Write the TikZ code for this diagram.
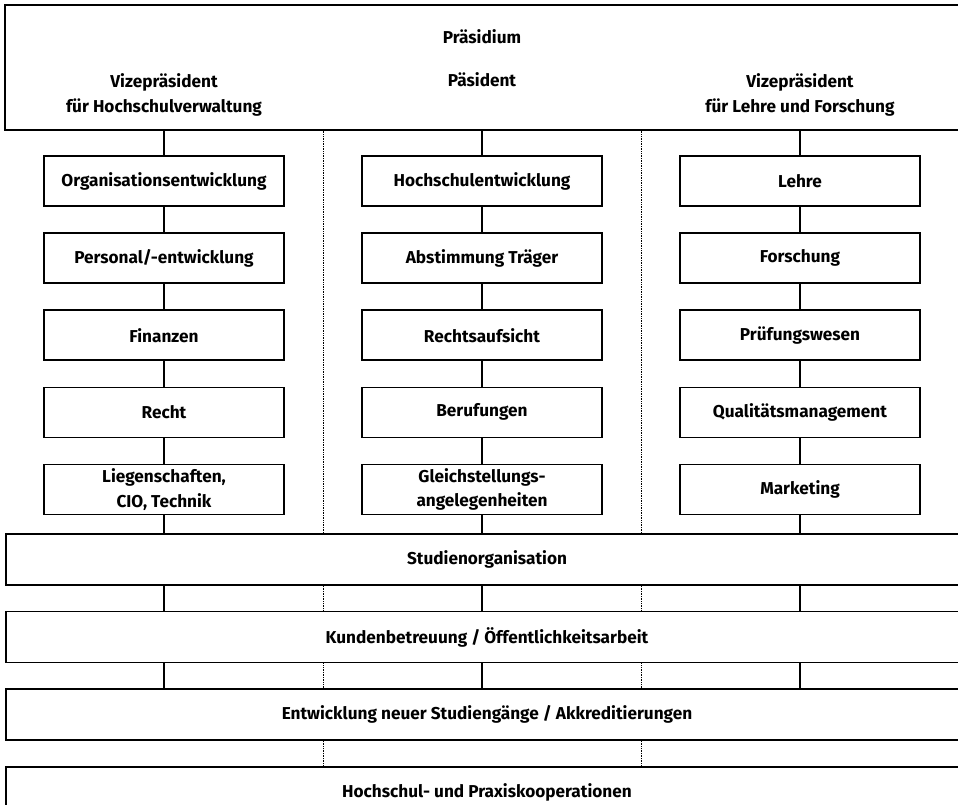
\documentclass[tikz,border=0pt]{standalone}
\usepackage{fontspec}
\setmainfont{Fira Sans}
\usetikzlibrary{positioning}

\begin{document}
\begin{tikzpicture}[x=1pt, y=-1pt, node distance=25.5pt,
    font=\fontsize{17.2}{24.5}\selectfont\bfseries,
    unit/.style={draw, line width=1.6pt, minimum width=240pt, minimum height=50pt,
      inner sep=0pt, align=center},
    band/.style={draw, line width=1.6pt, minimum width=962pt, minimum height=51pt,
      inner sep=0pt},
    link/.style={line width=1.3pt},
    split/.style={densely dotted, line width=0.7pt}]
  \useasboundingbox (0,0) rectangle (958,805);
  \clip (0,0) rectangle (958,805);

  % Praesidium
  \node [draw, line width=1.6pt, minimum width=962pt, minimum height=125pt,
    inner sep=0pt] (board) at (486,67.5) {};
  \node (praesidium) at (482,37) {Präsidium};
  \node [align=center] (vpverw) at (164,95) {Vizepräsident\\für Hochschulverwaltung};
  \node (praes) at (482,80) {Päsident};
  \node [align=center] (vplehre) at (800,95) {Vizepräsident\\für Lehre und Forschung};

  % Hochschulverwaltung
  \node [unit] (orga) at (164,181) {Organisationsentwicklung};
  \node [unit, below=of orga] (personal) {Personal/-entwicklung};
  \node [unit, below=of personal] (finanzen) {Finanzen};
  \node [unit, below=of finanzen] (recht) {Recht};
  \node [unit, below=of recht] (liegen) {Liegenschaften,\\CIO, Technik};

  % Praesident
  \node [unit] (hsentw) at (482,181) {Hochschulentwicklung};
  \node [unit, below=of hsentw] (traeger) {Abstimmung Träger};
  \node [unit, below=of traeger] (aufsicht) {Rechtsaufsicht};
  \node [unit, below=of aufsicht] (berufung) {Berufungen};
  \node [unit, below=of berufung] (gleich) {Gleichstellungs-\\angelegenheiten};

  % Lehre und Forschung
  \node [unit] (lehre) at (800,181) {Lehre};
  \node [unit, below=of lehre] (forschung) {Forschung};
  \node [unit, below=of forschung] (pruef) {Prüfungswesen};
  \node [unit, below=of pruef] (quali) {Qualitätsmanagement};
  \node [unit, below=of quali] (marketing) {Marketing};

  % durchgehende Bereiche
  \node [band] (studien) at (487,559.5) {Studienorganisation};
  \node [band, below=25pt of studien] (kunden) {Kundenbetreuung / Öffentlichkeitsarbeit};
  \node [band, below=25pt of kunden] (akkred) {Entwicklung neuer Studiengänge / Akkreditierungen};
  \node [band, below=25pt of akkred] (koop) {Hochschul- und Praxiskooperationen};

  \coordinate (sl) at (323,0);
  \coordinate (sr) at (641,0);

  \foreach \top/\first/\last in {board/orga/liegen, board/hsentw/gleich, board/lehre/marketing} {
    \draw [link] (\top.south -| \first) -- (\first.north);
    \draw [link] (\last.south) -- (studien.north -| \last);
    \draw [link] (studien.south -| \last) -- (kunden.north -| \last);
    \draw [link] (kunden.south -| \last) -- (akkred.north -| \last);
  }
  \draw [link] (orga) -- (personal) -- (finanzen) -- (recht) -- (liegen);
  \draw [link] (hsentw) -- (traeger) -- (aufsicht) -- (berufung) -- (gleich);
  \draw [link] (lehre) -- (forschung) -- (pruef) -- (quali) -- (marketing);

  \foreach \x in {sl, sr} {
    \draw [split] (board.south -| \x) -- (studien.north -| \x);
    \draw [split] (studien.south -| \x) -- (kunden.north -| \x);
    \draw [split] (kunden.south -| \x) -- (akkred.north -| \x);
    \draw [split] (akkred.south -| \x) -- (koop.north -| \x);
  }
\end{tikzpicture}
\end{document}
